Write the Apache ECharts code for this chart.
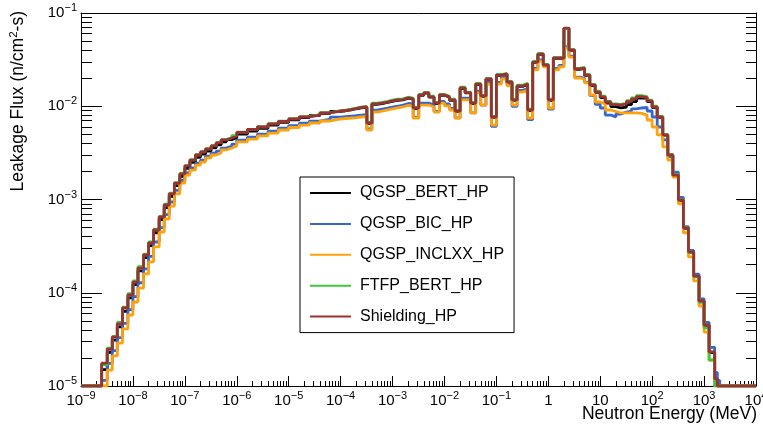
<!DOCTYPE html>
<html><head><meta charset="utf-8">
<script src="https://cdn.jsdelivr.net/npm/echarts@6/dist/echarts.min.js"></script>
<style>html,body{margin:0;padding:0;background:#fff}#c{width:763px;height:428px}</style>
</head><body><div id="c"></div><script>
const energies = [1e-9,
2.5e-9,3.2e-9,4e-9,5e-9,6.3e-9,8e-9,
1e-8,1.25e-8,1.6e-8,2e-8,2.5e-8,3.2e-8,4e-8,5e-8,6.3e-8,8e-8,
1e-7,1.25e-7,1.6e-7,2e-7,2.5e-7,3.2e-7,4e-7,5e-7,6.3e-7,8e-7,
1e-6,1.6e-6,2.5e-6,4e-6,6.3e-6,
1e-5,1.6e-5,2.5e-5,4e-5,6.3e-5,
1e-4,1.25e-4,1.6e-4,2e-4,2.5e-4,3.2e-4,4e-4,5e-4,6.3e-4,8e-4,
1e-3,1.25e-3,1.6e-3,2e-3,2.5e-3,3.2e-3,4e-3,5e-3,6.3e-3,8e-3,
1e-2,1.25e-2,1.6e-2,2e-2,2.5e-2,3.2e-2,4e-2,5e-2,6.3e-2,8e-2,
0.1,0.125,0.16,0.2,0.25,0.32,0.4,0.5,0.63,0.8,
1,1.25,1.6,2,2.5,3.2,4,5,6.3,8,
10,12.5,16,20,25,32,40,50,63,80,
100,125,160,200,250,320,400,500,630,800,
1000,1250,1600,1800,2000,10000];

const seriesNames = ['QGSP_BERT_HP','QGSP_BIC_HP','QGSP_INCLXX_HP','FTFP_BERT_HP','Shielding_HP'];
const seriesColors = ['#000000','#3468d0','#ffa10a','#3cc83c','#993333'];

const fluxQGSP_BERT = [1e-5,
1.5e-5,2.3e-5,3.1e-5,4.3e-5,6.3e-5,8.8e-5,
1.22e-4,1.72e-4,2.38e-4,3.2e-4,4.4e-4,6.1e-4,8.2e-4,1.08e-3,1.41e-3,1.77e-3,
2.16e-3,2.50e-3,2.84e-3,3.06e-3,3.30e-3,3.57e-3,3.85e-3,4.15e-3,4.38e-3,4.60e-3,
5.02e-3,5.43e-3,5.80e-3,6.27e-3,6.70e-3,
7.15e-3,7.55e-3,7.95e-3,8.38e-3,8.82e-3,
8.95e-3,9.15e-3,9.4e-3,9.62e-3,9.75e-3,6.5e-3,1.05e-2,1.07e-2,1.10e-2,1.13e-2,
1.16e-2,1.17e-2,1.22e-2,1.19e-2,9.45e-3,1.31e-2,1.38e-2,1.25e-2,1.07e-2,1.31e-2,
1.25e-2,1.16e-2,8.8e-3,1.55e-2,1.39e-2,1.07e-2,1.71e-2,1.28e-2,1.94e-2,7.6e-3,
2.14e-2,2.20e-2,1.80e-2,1.16e-2,1.63e-2,1.71e-2,9.0e-3,2.95e-2,3.60e-2,2.75e-2,
1.16e-2,3.26e-2,3.26e-2,6.8e-2,3.97e-2,2.48e-2,2.54e-2,2.14e-2,1.67e-2,1.41e-2,
1.24e-2,1.08e-2,9.9e-3,9.6e-3,9.8e-3,1.04e-2,1.12e-2,1.22e-2,1.22e-2,1.12e-2,
9.7e-3,7.6e-3,4.9e-3,2.98e-3,1.82e-3,9.8e-4,4.9e-4,2.72e-4,1.50e-4,8.1e-5,
4.45e-5,2.28e-5,1.15e-5,1e-5,1e-5,1e-5];

const fluxQGSP_BIC = [1e-5,
1.15e-5,1.75e-5,2.4e-5,3.3e-5,4.7e-5,6.6e-5,
9.1e-5,1.28e-4,1.80e-4,2.45e-4,3.50e-4,5.0e-4,6.9e-4,9.4e-4,1.25e-3,1.60e-3,
1.93e-3,2.18e-3,2.45e-3,2.64e-3,2.92e-3,3.14e-3,3.30e-3,3.56e-3,3.74e-3,3.93e-3,
4.34e-3,4.66e-3,5.03e-3,5.41e-3,5.83e-3,
6.20e-3,6.59e-3,6.93e-3,7.28e-3,7.65e-3,
7.74e-3,7.84e-3,7.93e-3,8.04e-3,8.13e-3,5.7e-3,9.08e-3,9.31e-3,9.55e-3,9.79e-3,
1.0e-2,1.03e-2,1.07e-2,1.06e-2,7.6e-3,1.08e-2,1.08e-2,1.03e-2,8.8e-3,1.13e-2,
1.06e-2,9.5e-3,7.5e-3,1.22e-2,1.22e-2,8.5e-3,1.45e-2,1.03e-2,1.80e-2,6.1e-3,
1.80e-2,2.04e-2,1.72e-2,1.0e-2,1.48e-2,1.55e-2,7.2e-3,2.55e-2,3.15e-2,2.70e-2,
9.3e-3,2.55e-2,2.75e-2,4.35e-2,3.45e-2,2.05e-2,2.0e-2,1.80e-2,1.30e-2,1.05e-2,
9.58e-3,8.05e-3,7.67e-3,8.26e-3,8.67e-3,8.89e-3,9.35e-3,9.58e-3,9.70e-3,8.89e-3,
7.67e-3,5.99e-3,4.35e-3,2.86e-3,1.97e-3,1.05e-3,5.1e-4,2.85e-4,1.58e-4,8.6e-5,
4.8e-5,2.6e-5,1.4e-5,1.15e-5,1e-5,1e-5];

const fluxQGSP_INCLXX = [1e-5,
1e-5,1.48e-5,2.10e-5,2.89e-5,4.09e-5,5.77e-5,
7.96e-5,1.12e-4,1.59e-4,2.14e-4,3.10e-4,4.48e-4,6.18e-4,8.51e-4,1.15e-3,1.50e-3,
1.83e-3,2.07e-3,2.34e-3,2.52e-3,2.79e-3,3.00e-3,3.15e-3,3.40e-3,3.57e-3,3.75e-3,
4.14e-3,4.45e-3,4.80e-3,5.16e-3,5.56e-3,
5.92e-3,6.29e-3,6.61e-3,6.95e-3,7.30e-3,
7.39e-3,7.48e-3,7.57e-3,7.67e-3,7.76e-3,5.56e-3,8.67e-3,8.89e-3,9.12e-3,9.35e-3,
9.58e-3,9.82e-3,1.02e-2,1.01e-2,7.48e-3,1.03e-2,1.03e-2,9.82e-3,8.67e-3,1.08e-2,
1.01e-2,9.12e-3,7.48e-3,1.17e-2,1.17e-2,8.47e-3,1.39e-2,1.03e-2,1.73e-2,6.29e-3,
1.73e-2,1.96e-2,1.65e-2,1.03e-2,1.42e-2,1.49e-2,7.48e-3,2.45e-2,3.05e-2,2.64e-2,
9.58e-3,2.45e-2,2.64e-2,4.22e-2,3.37e-2,2.01e-2,1.96e-2,1.78e-2,1.32e-2,1.11e-2,
1.06e-2,9.12e-3,8.79e-3,8.47e-3,8.47e-3,8.47e-3,8.47e-3,8.37e-3,8.05e-3,7.12e-3,
5.99e-3,4.92e-3,3.66e-3,2.65e-3,1.74e-3,9.0e-4,4.4e-4,2.42e-4,1.34e-4,7.21e-5,
3.79e-5,1.90e-5,1e-5,1e-5,1e-5,1e-5];

const fluxFTFP_BERT = [1e-5,
1.7e-5,2.55e-5,3.4e-5,4.8e-5,7.0e-5,9.8e-5,
1.34e-4,1.9e-4,2.6e-4,3.5e-4,4.8e-4,6.6e-4,8.9e-4,1.17e-3,1.52e-3,1.90e-3,
2.31e-3,2.67e-3,3.02e-3,3.25e-3,3.50e-3,3.78e-3,4.07e-3,4.38e-3,4.60e-3,4.84e-3,
5.26e-3,5.66e-3,6.03e-3,6.50e-3,6.92e-3,
7.36e-3,7.74e-3,8.12e-3,8.55e-3,8.97e-3,
9.1e-3,9.3e-3,9.55e-3,9.8e-3,9.95e-3,6.7e-3,1.08e-2,1.10e-2,1.13e-2,1.16e-2,
1.19e-2,1.20e-2,1.25e-2,1.22e-2,9.7e-3,1.34e-2,1.41e-2,1.28e-2,1.10e-2,1.34e-2,
1.28e-2,1.19e-2,9.0e-3,1.60e-2,1.42e-2,1.10e-2,1.76e-2,1.31e-2,1.99e-2,7.8e-3,
2.19e-2,2.25e-2,1.85e-2,1.19e-2,1.68e-2,1.76e-2,9.3e-3,3.02e-2,3.68e-2,2.81e-2,
1.19e-2,3.33e-2,3.33e-2,6.8e-2,4.05e-2,2.55e-2,2.61e-2,2.20e-2,1.72e-2,1.45e-2,
1.28e-2,1.13e-2,1.06e-2,1.05e-2,1.08e-2,1.15e-2,1.23e-2,1.30e-2,1.27e-2,1.16e-2,
1.0e-2,7.8e-3,5.0e-3,3.05e-3,1.86e-3,1.0e-3,5.0e-4,2.72e-4,1.48e-4,7.9e-5,
4.2e-5,1.9e-5,1e-5,1e-5,1e-5,1e-5];

const fluxShielding = [1e-5,
1.76e-5,2.49e-5,3.35e-5,4.62e-5,6.86e-5,9.46e-5,
1.30e-4,1.84e-4,2.54e-4,3.42e-4,4.71e-4,6.49e-4,8.73e-4,1.15e-3,1.50e-3,1.88e-3,
2.29e-3,2.65e-3,3.00e-3,3.23e-3,3.48e-3,3.75e-3,4.04e-3,4.35e-3,4.57e-3,4.80e-3,
5.23e-3,5.63e-3,5.99e-3,6.45e-3,6.86e-3,
7.30e-3,7.67e-3,8.05e-3,8.47e-3,8.89e-3,
9.0e-3,9.22e-3,9.46e-3,9.70e-3,9.82e-3,6.61e-3,1.06e-2,1.08e-2,1.11e-2,1.14e-2,
1.17e-2,1.18e-2,1.23e-2,1.20e-2,9.58e-3,1.32e-2,1.39e-2,1.26e-2,1.08e-2,1.32e-2,
1.26e-2,1.17e-2,8.89e-3,1.57e-2,1.40e-2,1.08e-2,1.73e-2,1.29e-2,1.96e-2,7.67e-3,
2.16e-2,2.22e-2,1.82e-2,1.17e-2,1.65e-2,1.73e-2,9.12e-3,2.98e-2,3.63e-2,2.77e-2,
1.17e-2,3.29e-2,3.29e-2,6.90e-2,4.01e-2,2.51e-2,2.57e-2,2.16e-2,1.69e-2,1.42e-2,
1.26e-2,1.11e-2,1.04e-2,1.03e-2,1.06e-2,1.12e-2,1.20e-2,1.27e-2,1.24e-2,1.14e-2,
9.82e-3,7.67e-3,4.92e-3,3.00e-3,1.83e-3,9.88e-4,4.95e-4,2.74e-4,1.51e-4,8.16e-5,
4.51e-5,2.32e-5,1.2e-5,1e-5,1e-5,1e-5];

const xTickLabels = ['10^−9','10^−8','10^−7','10^−6','10^−5','10^−4','10^−3','10^−2','10^−1','1','10','10^2','10^3','10^4'];
const yTickLabels = ['10^−5','10^−4','10^−3','10^−2','10^−1'];
const xTitle = 'Neutron Energy (MeV)';
const yTitle = 'Leakage Flux (n/cm{s|2}-s)';

const FONT = '"Liberation Sans", Arial, Helvetica, sans-serif';
const allFlux = [fluxQGSP_BERT, fluxQGSP_BIC, fluxQGSP_INCLXX, fluxFTFP_BERT, fluxShielding];

function rich(s){ const p = s.split('^'); return p.length > 1 ? '{b|'+p[0]+'}{s|'+p[1]+'}' : '{b|'+p[0]+'}'; }
const richStyle = {
  b: {fontSize: 15, lineHeight: 22, fontFamily: FONT, color: '#000'},
  s: {fontSize: 11, lineHeight: 12, fontFamily: FONT, color: '#000', padding: [0,0,10,0]}
};
function minorTicks(a, b){ const out = []; for (let n = a; n < b; n++) for (let k = 2; k <= 9; k++) out.push(n + Math.log10(k)); return out; }

const chart = echarts.init(document.getElementById('c'), null, {renderer: 'canvas'});
const lineBlack = {lineStyle: {color: '#000', width: 1}, onZero: false};
chart.setOption({
  animation: false,
  backgroundColor: '#fff',
  grid: {left: 81, right: 7, top: 13, bottom: 42, containLabel: false, outerBoundsMode: 'none'},
  xAxis: [
    {type: 'log', logBase: 10, min: 1e-9, max: 1e4, show: false},
    {type: 'value', min: -9, max: 4, interval: 1, position: 'bottom', axisLine: lineBlack,
     axisTick: {inside: true, length: 10, lineStyle: {color: '#000', width: 1}},
     axisLabel: {margin: 4, formatter: (v, i) => rich(xTickLabels[Math.round(v) + 9]), rich: richStyle},
     splitLine: {show: false}},
    {type: 'value', min: -9, max: 4, position: 'bottom', axisLine: {show: false, onZero: false},
     axisTick: {inside: true, length: 5, customValues: minorTicks(-9, 4), lineStyle: {color: '#000', width: 1}},
     axisLabel: {show: false}, splitLine: {show: false}},
    {type: 'value', min: -9, max: 4, position: 'top', axisLine: lineBlack,
     axisTick: {show: false}, axisLabel: {show: false}, splitLine: {show: false}}
  ],
  yAxis: [
    {type: 'log', logBase: 10, min: 1e-5, max: 1e-1, show: false},
    {type: 'value', min: -5, max: -1, interval: 1, position: 'left', axisLine: lineBlack,
     axisTick: {inside: true, length: 21, lineStyle: {color: '#000', width: 1}},
     axisLabel: {margin: 4, formatter: (v) => rich(yTickLabels[Math.round(v) + 5]), rich: richStyle},
     splitLine: {show: false}},
    {type: 'value', min: -5, max: -1, position: 'left', axisLine: {show: false, onZero: false},
     axisTick: {inside: true, length: 11, customValues: minorTicks(-5, -1), lineStyle: {color: '#000', width: 1}},
     axisLabel: {show: false}, splitLine: {show: false}},
    {type: 'value', min: -5, max: -1, interval: 1, position: 'right', axisLine: lineBlack,
     axisTick: {inside: true, length: 20, lineStyle: {color: '#000', width: 1}},
     axisLabel: {show: false}, splitLine: {show: false}},
    {type: 'value', min: -5, max: -1, position: 'right', axisLine: {show: false, onZero: false},
     axisTick: {inside: true, length: 10, customValues: minorTicks(-5, -1), lineStyle: {color: '#000', width: 1}},
     axisLabel: {show: false}, splitLine: {show: false}}
  ],
  legend: {
    orient: 'vertical', left: 300, top: 177,
    data: seriesNames,
    icon: 'rect', itemWidth: 41, itemHeight: 2, itemGap: 10.9,
    padding: [6, 10, 6, 10],
    borderColor: '#000', borderWidth: 1, backgroundColor: '#fff',
    textStyle: {fontSize: 16, fontFamily: FONT, color: '#000', lineHeight: 20, padding: [0, 0, 0, 4]},
    selectedMode: false
  },
  series: seriesNames.map((name, si) => ({
    name: name, type: 'line', step: 'end', xAxisIndex: 0, yAxisIndex: 0,
    showSymbol: false, symbol: 'none', clip: true,
    color: seriesColors[si],
    itemStyle: {color: seriesColors[si]},
    lineStyle: {color: seriesColors[si], width: 2.8},
    data: energies.map((e, i) => [e, allFlux[si][i]]),
    z: 2 + si
  })),
  graphic: [
    {type: 'text', right: 6, top: 405, style: {text: xTitle, font: '17.5px ' + FONT, fill: '#000'}},
    {type: 'text', x: 18, y: 11, rotation: Math.PI / 2,
     style: {text: yTitle, fill: '#000', align: 'right', verticalAlign: 'middle',
       font: '17.5px ' + FONT,
       rich: {s: {fontSize: 11.5, fontFamily: FONT, fill: '#000', padding: [0, 0, 9, 0]}}}}
  ]
});
</script></body></html>
